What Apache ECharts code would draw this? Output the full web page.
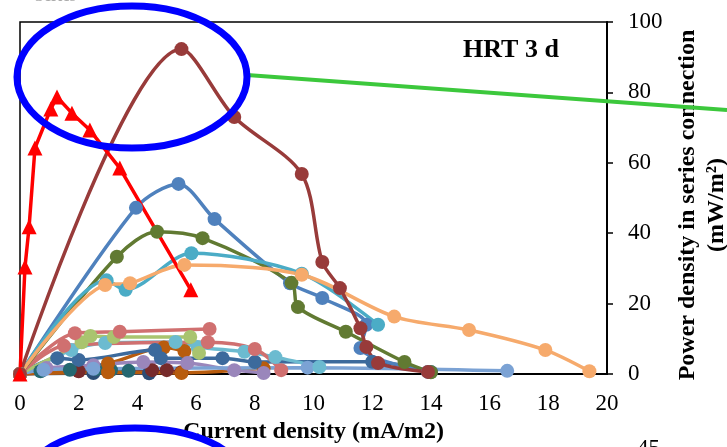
<!DOCTYPE html>
<html><head><meta charset="utf-8">
<script src="https://cdn.jsdelivr.net/npm/echarts@6/dist/echarts.min.js"></script>
<style>html,body{margin:0;padding:0;background:#fff;overflow:hidden}#c{width:727px;height:447px}</style>
</head><body><div id="c"></div>
<script>
// ---- data (x = current density mA/m2, y = power density mW/m2) ----
const xTicks = [0, 2, 4, 6, 8, 10, 12, 14, 16, 18, 20];
const yTicks = [0, 20, 40, 60, 80, 100];

const redTri = [[0,0],[0.17,30.4],[0.31,41.8],[0.51,64.2],[1.05,75.3],[1.26,78.7],[1.77,74.1],[2.38,69.3],[3.4,58.5],[5.82,23.9]];
const brown  = [[0,0],[5.5,92.3],[7.3,73],[9.6,56.8],[10.3,31.8],[10.9,24.4],[11.6,13],[11.8,7.7],[12.2,3.1],[13.9,0.6]];
const blue   = [[0,0],[3.95,47.2],[5.4,54],[6.63,44],[9.2,25.8],[10.3,21.6],[11.8,14],[11.6,7.4],[13.9,0.6]];
const olive  = [[0,0],[3.3,33.3],[4.67,40.4],[6.22,38.6],[9.25,25.9],[9.47,19],[11.1,12],[13.1,3.4],[14,0.5]];
const teal   = [[0,0],[2.95,26.6],[3.6,23.9],[5.84,34.3],[9.6,28.5],[12.2,14]];
const orange = [[0,0],[2.9,25.3],[3.75,25.8],[5.6,31],[9.6,28.2],[12.75,16.3],[15.3,12.5],[17.9,6.8],[19.4,0.8]];

const pink1     = [[0,0],[1.87,11.6],[3.4,12],[6.46,12.8]];
const pink2     = [[0,0],[1.5,8],[6.4,9],[8,7.1],[8.9,1.1]];
const lightGreen= [[0,0],[2.1,9],[2.4,10.8],[3.2,10.5],[5.8,10.5],[6.1,6]];
const cyan      = [[0,0],[1.75,6.8],[2.9,8.8],[5.3,9.1],[6.05,7.7],[7.65,6.3],[8.7,4.8],[10.2,2]];
const steel     = [[0,0],[1.27,4.5],[2,4],[4.6,6.8],[4.8,4.5],[6.9,4.5],[8,3.4],[12,3.5],[14,0.6]];
const lightBlue = [[0,0],[0.8,1.2],[2.5,1.5],[9.8,1.8],[16.6,0.9]];
const purple    = [[0,0],[0.9,1.7],[2.5,2.5],[4.2,3.4],[5.7,3.1],[7.3,1.1],[8.3,0.3]];
const rust1     = [[0,0],[3,3],[4.9,7.5],[5.6,6.5]];
const rust2     = [[0,0],[3,0.5],[5.5,0.3],[8.3,1.6]];
const darkTeal  = [[0,0],[0.7,0.8],[1.7,1.2],[2.6,1.4],[3.1,1.1],[3.7,0.9]];
const maroon    = [[0,0],[2,0.8],[4.5,1.1],[5,1.1],[5.5,0.5]];
const navy      = [[0,0],[2.5,0.3],[4.4,0.2]];

const FONT = "'Liberation Serif','Times New Roman',serif";

const specs = [
  [navy, '#2C4D75', 'circle'],
  [maroon, '#772B2B', 'circle'],
  [darkTeal, '#256871', 'circle'],
  [rust2, '#B85C0E', 'circle'],
  [rust1, '#B85C0E', 'circle'],
  [purple, '#9A86BB', 'circle'],
  [lightBlue, '#7BA2D4', 'circle'],
  [steel, '#3C6A9C', 'circle'],
  [cyan, '#6CBBD0', 'circle'],
  [lightGreen, '#A9C46F', 'circle'],
  [pink2, '#D07070', 'circle'],
  [pink1, '#D07070', 'circle'],
  [blue, '#4F81BD', 'circle'],
  [olive, '#617A32', 'circle'],
  [teal, '#4BACC6', 'circle'],
  [orange, '#F6AA6C', 'circle'],
  [brown, '#983B3A', 'circle'],
  [redTri, '#FF0000', 'triangle']
];

const series = specs.map(([d, c, sym]) => ({
  type: 'line',
  data: d,
  smooth: sym === 'triangle' ? false : 0.3,
  symbol: sym,
  symbolSize: sym === 'triangle' ? 15 : 14,
  showAllSymbol: true,
  lineStyle: { color: c, width: 3.5 },
  itemStyle: { color: c },
  emphasis: { disabled: true },
  animation: false
}));

const chart = echarts.init(document.getElementById('c'));
chart.setOption({
  animation: false,
  backgroundColor: '#fff',
  grid: { left: 20, right: 120, top: 22, bottom: 73, containLabel: false, outerBoundsMode: 'none',
          show: true, borderColor: '#000', borderWidth: 1.5 },
  xAxis: {
    type: 'value', min: xTicks[0], max: xTicks[xTicks.length - 1], interval: 2,
    axisLine: { show: true, onZero: false, lineStyle: { color: '#000', width: 2 } },
    axisTick: { show: false },
    splitLine: { show: false },
    axisLabel: { color: '#000', fontSize: 23, fontFamily: FONT, margin: 18 },
    name: 'Current density (mA/m2)', nameLocation: 'middle', nameGap: 46,
    nameTextStyle: { color: '#000', fontSize: 24, fontWeight: 'bold', fontFamily: FONT }
  },
  yAxis: {
    type: 'value', position: 'right', min: yTicks[0], max: yTicks[yTicks.length - 1], interval: 20,
    axisLine: { show: true, onZero: false, lineStyle: { color: '#000', width: 2 } },
    axisTick: { show: true, inside: false, length: 6, lineStyle: { color: '#000', width: 1.5 } },
    splitLine: { show: false },
    axisLabel: { color: '#000', fontSize: 23, fontFamily: FONT, margin: 21 }
  },
  series: series,
  graphic: [
    { type: 'text', x: 702, y: 205, rotation: Math.PI / 2, z: 50,
      style: { text: 'Power density in series connection\n(mW/m²)', font: 'bold 24px ' + FONT, fill: '#000', align: 'center', verticalAlign: 'middle', lineHeight: 29 } },
    { type: 'text', x: 463, y: 37, z: 50,
      style: { text: 'HRT 3 d', font: 'bold 26px ' + FONT, fill: '#000' } },
    { type: 'text', x: 637, y: 437, z: 50,
      style: { text: '45', font: '23px ' + FONT, fill: '#000' } },
    { type: 'text', x: 35, y: -11, z: 50,
      style: { text: 'Series', font: 'bold 16px ' + FONT, fill: '#aaaaaa' } },
    { type: 'line', z: 100, shape: { x1: 247, y1: 75, x2: 727, y2: 110 },
      style: { stroke: '#3CC83C', lineWidth: 4 } },
    { type: 'ellipse', z: 101, shape: { cx: 132, cy: 77, rx: 115, ry: 71 },
      style: { fill: 'none', stroke: '#0000FF', lineWidth: 7 } },
    { type: 'ellipse', z: 101, shape: { cx: 135, cy: 475, rx: 105, ry: 47 },
      style: { fill: 'none', stroke: '#0000FF', lineWidth: 7 } }
  ]
});
</script>
</body></html>
